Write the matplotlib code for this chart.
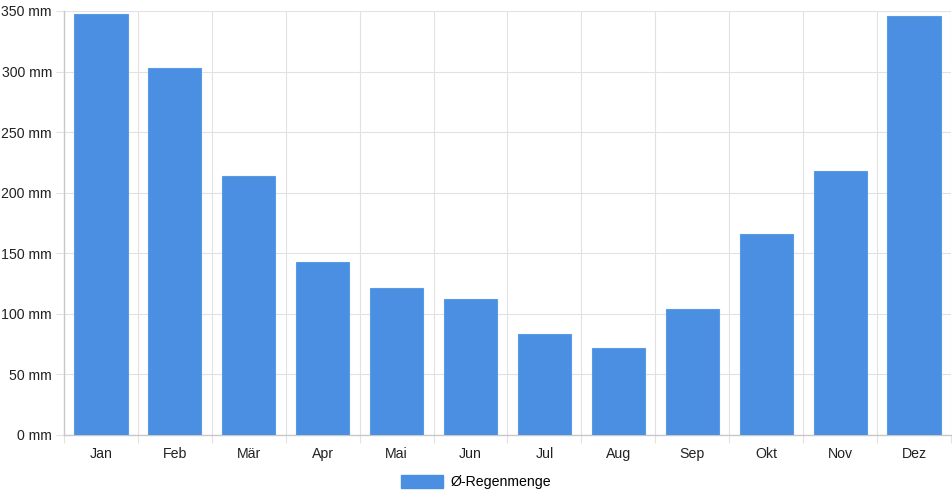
import matplotlib
matplotlib.use("Agg")
import matplotlib.pyplot as plt
import numpy as np
from matplotlib.patches import Patch

months = ["Jan", "Feb", "Mär", "Apr", "Mai", "Jun", "Jul", "Aug", "Sep", "Okt", "Nov", "Dez"]
rain = [347.5, 303, 214, 143, 121.5, 112, 83, 71.5, 104, 166, 218, 346]
yticks = [0, 50, 100, 150, 200, 250, 300, 350]
series_label = "Ø-Regenmenge"

plt.rcParams['font.family'] = ['Liberation Sans', 'DejaVu Sans']
bar_color = "#4a8fe2"
grid_color = "#e2e2e2"

fig = plt.figure(figsize=(9.52, 5.0), dpi=100)
ax = fig.add_axes([64/952, 65/500, 887/952, 424/500])

x = np.arange(len(months))
ax.bar(x, rain, width=0.72, color=bar_color, edgecolor="#5b9be6", linewidth=0.8, zorder=3)

ax.set_xlim(-0.5, len(months) - 0.5)
ax.set_ylim(0, 350)
ax.set_yticks(yticks)
ax.set_yticklabels([f"{v} mm" for v in yticks])
ax.set_xticks(x)
ax.set_xticklabels(months)
ax.set_xticks(np.arange(-0.5, len(months), 1.0), minor=True)

ax.tick_params(axis='y', length=5.8, width=0.8, color=grid_color, labelsize=10.2, pad=2.9, labelcolor="#222222")
ax.tick_params(axis='x', which='major', length=0, labelsize=10.2, pad=8.5, labelcolor="#222222")
ax.tick_params(axis='x', which='minor', length=5.8, width=0.8, color=grid_color)

ax.grid(axis='y', which='major', color=grid_color, linewidth=0.8, zorder=0)
ax.grid(axis='x', which='minor', color=grid_color, linewidth=0.8, zorder=0)
ax.grid(axis='x', which='major', visible=False)

for s in ['top', 'right']:
    ax.spines[s].set_visible(False)
for s in ['left', 'bottom']:
    ax.spines[s].set_color("#c8c8c8")
    ax.spines[s].set_linewidth(1)

handle = Patch(facecolor=bar_color, edgecolor=bar_color)
fig.legend([handle], [series_label], loc='center', bbox_to_anchor=(476/952, 1 - 482/500),
           frameon=False, fontsize=10.2, handlelength=3.0, handleheight=1.1, handletextpad=0.5)

fig.savefig("out.png", dpi=100)
